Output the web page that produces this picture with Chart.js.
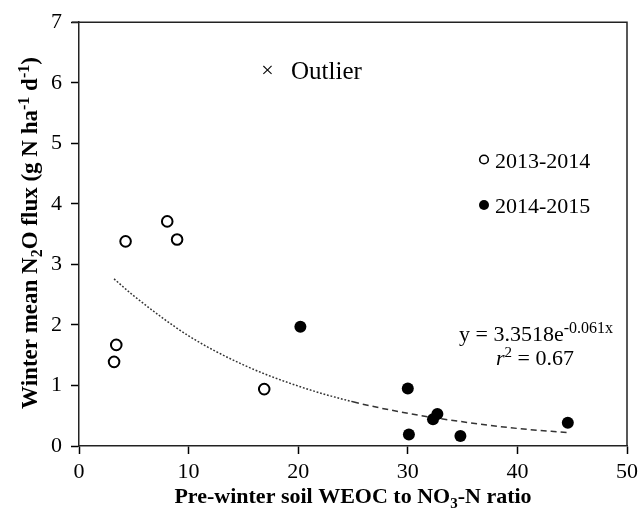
<!DOCTYPE html>
<html>
<head>
<meta charset="utf-8">
<script src="https://cdn.jsdelivr.net/npm/chart.js@4.4.1/dist/chart.umd.min.js"></script>
<style>
  html, body { margin: 0; padding: 0; background: #fff; }
  #wrap { width: 643px; height: 516px; position: relative; }
</style>
</head>
<body>
<div id="wrap"><canvas id="c"></canvas></div>
<script>
// ---- data ----
const xTicks = [0, 10, 20, 30, 40, 50];
const yTicks = [0, 1, 2, 3, 4, 5, 6, 7];

const season1Label = "2013-2014";
const season1X = [3.2, 3.4, 4.25, 8.05, 8.95, 16.9];
const season1Y = [1.39, 1.67, 3.38, 3.71, 3.41, 0.94];

const season2Label = "2014-2015";
const season2X = [20.2, 30.0, 30.1, 32.3, 32.7, 34.8, 44.6];
const season2Y = [1.97, 0.95, 0.19, 0.44, 0.53, 0.165, 0.385];

// exponential trend line
const trendX = [3.2, 5, 10, 15, 20, 25, 30, 35, 40, 44.6];
const trendY = [2.76, 2.48, 1.82, 1.34, 0.99, 0.73, 0.54, 0.40, 0.29, 0.22];

const outlierLabel = "Outlier";
const eqMain = "y = 3.3518e";
const eqExp = "-0.061x";
const r2Value = "0.67";

const xTitleParts = [["Pre-winter soil WEOC to NO", 0], ["3", 1], ["-N ratio", 0]];
const yTitleParts = [["Winter mean N", 0], ["2", 1], ["O flux (g N ha", 0], ["-1", -1], [" d", 0], ["-1", -1], [")", 0]];

// ---- helpers ----
const toPts = (xs, ys) => xs.map((x, i) => ({ x: x, y: ys[i] }));
const SERIF = "'Liberation Serif', 'Times New Roman', serif";

function drawRuns(ctx, parts, x, y, size, bold, align, smallRatio) {
  const w = bold ? "bold " : "";
  const r = smallRatio || 0.68;
  const fontFor = (k) => w + (k === 0 ? size : Math.round(size * r)) + "px " + SERIF;
  let total = 0;
  parts.forEach(([t, k]) => { ctx.font = fontFor(k); total += ctx.measureText(t).width; });
  let cx = align === "center" ? x - total / 2 : x;
  ctx.textAlign = "left";
  ctx.textBaseline = "alphabetic";
  parts.forEach(([t, k]) => {
    ctx.font = fontFor(k);
    const dy = k === 1 ? size * 0.22 : (k === -1 ? -size * 0.36 : 0);
    ctx.fillText(t, cx, y + dy);
    cx += ctx.measureText(t).width;
  });
}

const decor = {
  id: "decor",
  afterDraw(chart) {
    const ctx = chart.ctx;
    const a = chart.chartArea;
    ctx.save();
    // frame (top and right)
    ctx.strokeStyle = "#222";
    ctx.lineWidth = 1.5;
    ctx.beginPath();
    ctx.moveTo(a.left - 7, a.top);
    ctx.lineTo(a.right, a.top);
    ctx.lineTo(a.right, a.bottom);
    ctx.stroke();

    ctx.fillStyle = "#000";
    // axis titles
    drawRuns(ctx, xTitleParts, (a.left + a.right) / 2, 503, 22, true, "center");
    ctx.save();
    ctx.translate(37, 233);
    ctx.rotate(-Math.PI / 2);
    drawRuns(ctx, yTitleParts, 0, 0, 23, true, "center");
    ctx.restore();

    // outlier key
    ctx.font = "22px " + SERIF;
    ctx.textAlign = "center";
    ctx.textBaseline = "middle";
    ctx.fillText("\u00d7", 267.5, 71);
    ctx.textAlign = "left";
    ctx.textBaseline = "alphabetic";
    ctx.font = "25px " + SERIF;
    ctx.fillText(outlierLabel, 291, 78.5);

    // series key
    ctx.lineWidth = 1.6;
    ctx.strokeStyle = "#000";
    ctx.beginPath();
    ctx.arc(484, 159.5, 4.3, 0, Math.PI * 2);
    ctx.fillStyle = "#fff";
    ctx.fill();
    ctx.stroke();
    ctx.fillStyle = "#000";
    ctx.beginPath();
    ctx.arc(484, 205, 5, 0, Math.PI * 2);
    ctx.fill();
    ctx.font = "22px " + SERIF;
    ctx.fillText(season1Label, 495, 167.5);
    ctx.fillText(season2Label, 495, 213);

    // equation
    drawRuns(ctx, [[eqMain, 0], [eqExp, -1]], 536, 341, 22, false, "center", 0.72);
    // r^2 line
    ctx.font = "italic 22px " + SERIF;
    const rW = ctx.measureText("r").width;
    ctx.font = "15px " + SERIF;
    const sW = ctx.measureText("2").width;
    ctx.font = "22px " + SERIF;
    const restW = ctx.measureText(" = " + r2Value).width;
    let x0 = 535 - (rW + sW + restW) / 2;
    ctx.font = "italic 22px " + SERIF;
    ctx.fillText("r", x0, 365);
    ctx.font = "15px " + SERIF;
    ctx.fillText("2", x0 + rW, 365 - 8);
    ctx.font = "22px " + SERIF;
    ctx.fillText(" = " + r2Value, x0 + rW + sW, 365);
    ctx.restore();
  }
};

new Chart(document.getElementById("c"), {
  type: "scatter",
  data: {
    datasets: [
      {
        label: season1Label,
        data: toPts(season1X, season1Y),
        pointRadius: 5.3,
        pointBorderWidth: 2,
        pointBackgroundColor: "#fff",
        pointBorderColor: "#000",
        order: 1
      },
      {
        label: season2Label,
        data: toPts(season2X, season2Y),
        pointRadius: 6,
        pointBorderWidth: 0,
        pointBackgroundColor: "#000",
        pointBorderColor: "#000",
        order: 2
      },
      {
        label: "trend",
        data: toPts(trendX, trendY),
        showLine: true,
        pointRadius: 0,
        borderColor: "#333",
        borderWidth: 1.5,
        cubicInterpolationMode: "monotone",
        segment: {
          borderDash: (c) => (c.p0.parsed.x < 22 ? [1.8, 1.8] : [6, 4])
        },
        order: 3
      }
    ]
  },
  options: {
    responsive: true,
    maintainAspectRatio: false,
    animation: false,
    events: [],
    layout: { padding: { top: 22, right: 15, left: 0, bottom: 0 } },
    plugins: { legend: { display: false }, tooltip: { enabled: false } },
    scales: {
      x: {
        type: "linear",
        min: xTicks[0],
        max: xTicks[xTicks.length - 1],
        afterBuildTicks: (s) => { s.ticks = xTicks.map(v => ({ value: v })); },
        afterFit: (s) => { s.height = 70; },
        grid: { drawOnChartArea: false, drawTicks: true, tickLength: 8, tickColor: "#000", tickWidth: 1.5 },
        border: { display: true, color: "#222", width: 1.5 },
        ticks: { color: "#000", font: { family: SERIF, size: 22 }, padding: 5, maxRotation: 0 },
        title: { display: false }
      },
      y: {
        type: "linear",
        min: yTicks[0],
        max: yTicks[yTicks.length - 1],
        afterBuildTicks: (s) => { s.ticks = yTicks.map(v => ({ value: v })); },
        afterFit: (s) => { s.width = 79; },
        grid: { drawOnChartArea: false, drawTicks: true, tickLength: 8, tickColor: "#000", tickWidth: 1.5 },
        border: { display: true, color: "#222", width: 1.5 },
        ticks: { color: "#000", font: { family: SERIF, size: 22 }, padding: 9 },
        title: { display: false }
      }
    }
  },
  plugins: [decor]
});
</script>
</body>
</html>
